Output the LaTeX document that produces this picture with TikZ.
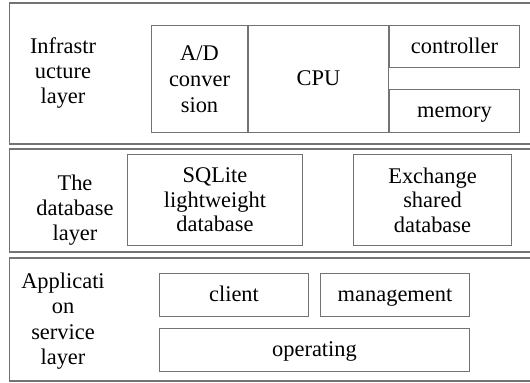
\documentclass[tikz,border=0pt]{standalone}
\usepackage{fontspec}
\setmainfont{Liberation Serif}
\usepackage{tikz}

\begin{document}
\begin{tikzpicture}[x=1bp,y=-1bp,
  layer/.style={draw=gray!90!black, line width=1.1bp},
  box/.style={draw=gray!90!black, line width=0.9bp, inner sep=0pt, align=center,
    font=\fontsize{22.5}{26}\selectfont},
  single/.style={box, text height=16bp, text depth=3bp},
  lbl/.style={inner sep=0pt, align=center, font=\fontsize{22.5}{25}\selectfont}]
\useasboundingbox (0,0) rectangle (530,382);
% layers
\draw[layer] (9.5,3) rectangle (534,144);
\draw[layer] (9.5,149) rectangle (534,252);
\draw[layer] (9.5,258) rectangle (534,381);
\node[lbl] (infra) at (63,73) {Infrastr\\ucture\\layer};
\node[lbl] (dbl) at (75,210) {The\\database\\layer};
\node[lbl, font=\fontsize{22.5}{25.5}\selectfont] (appl) at (63,321) {Applicati\\on\\service\\layer};
% infrastructure
\node[box, minimum width=97, minimum height=108] (ad) at (199.5,79) {A/D\\conver\\sion};
\node[single, minimum width=141, minimum height=108] (cpu) at (318.5,79) {CPU};
\node[single, minimum width=131, minimum height=43] (ctrl) at (454.5,46.5) {controller};
\node[single, minimum width=131, minimum height=44] (mem) at (454.5,111) {memory};
% database
\node[box, font=\fontsize{22.5}{24.5}\selectfont, minimum width=176, minimum height=92] (sqlite) at (215,200) {SQLite\\lightweight\\database};
\node[box, font=\fontsize{22.5}{24.5}\selectfont, minimum width=159, minimum height=92] (exch) at (432.5,200) {Exchange\\shared\\database};
% application
\node[single, minimum width=150, minimum height=44] (client) at (234,295) {client};
\node[single, minimum width=150, minimum height=44] (mgmt) at (395,295) {management};
\node[single, minimum width=311, minimum height=44] (oper) at (314.5,350) {operating};
\end{tikzpicture}
\end{document}
